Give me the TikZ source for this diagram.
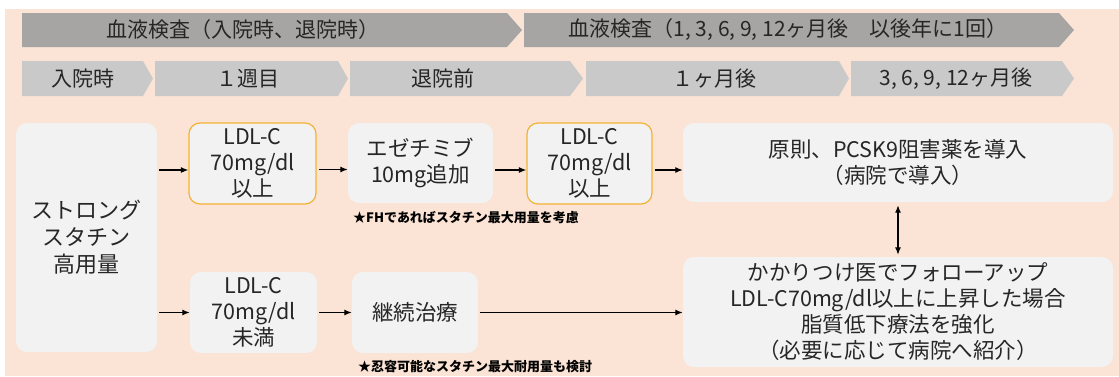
\documentclass[tikz,border=0pt]{standalone}
\usepackage{fontspec}
\setmainfont{Noto Sans CJK JP}
\usetikzlibrary{arrows.meta}
\definecolor{peach}{HTML}{FBE4D5}
\definecolor{boxgray}{HTML}{F2F2F2}
\definecolor{darkchev}{HTML}{A7A5A4}
\definecolor{lightchev}{HTML}{C9C9C9}
\definecolor{goldline}{HTML}{F2B233}
\definecolor{txt}{HTML}{262626}
\tikzset{
  chevtxt/.style={inner sep=0pt, text=txt, font=\fontsize{21}{24}\selectfont},
  flowbox/.style={fill=boxgray, rounded corners=11pt, align=center, text=txt,
    inner sep=0pt, font=\fontsize{21.5}{26}\selectfont},
  goldbox/.style={flowbox, draw=goldline, line width=1.2pt},
  arr/.style={-{Latex[length=7.5pt,width=6pt]}, line width=1.3pt, black, shorten <=2pt},
  darr/.style={{Latex[length=7.5pt,width=6pt]}-{Latex[length=7.5pt,width=6pt]}, line width=1.3pt, black},
  notetxt/.style={anchor=west, inner sep=0pt, text=black, font=\bfseries\fontsize{13}{15}\selectfont}
}
\begin{document}
\begin{tikzpicture}[x=1pt,y=-1pt]
\useasboundingbox (0,0) rectangle (1119,376);
\fill[white] (0,0) rectangle (1119,376);
\fill[peach] (5,9) rectangle (1119,376);
% top dark chevrons
\fill[darkchev] (22,13) -- (507,13) -- (522,30) -- (507,47) -- (22,47) -- cycle;
\fill[darkchev] (524,13) -- (1059,13) -- (1074,30) -- (1059,47) -- (524,47) -- cycle;
\node[chevtxt] (t1) at (243,30) {血液検査（入院時、退院時）};
\node[chevtxt] (t2) at (788,30) {血液検査（1, 3, 6, 9, 12ヶ月後　以後年に1回）};
% second row light chevrons
\fill[lightchev] (22,61) -- (143,61) -- (153,78.5) -- (143,96) -- (22,96) -- cycle;
\fill[lightchev] (155,61) -- (338,61) -- (348,78.5) -- (338,96) -- (155,96) -- cycle;
\fill[lightchev] (350,61) -- (570,61) -- (583,78.5) -- (570,96) -- (350,96) -- cycle;
\fill[lightchev] (586,61) -- (839,61) -- (849,78.5) -- (839,96) -- (586,96) -- cycle;
\fill[lightchev] (851,61) -- (1062,61) -- (1074,78.5) -- (1062,96) -- (851,96) -- cycle;
\node[chevtxt] (s1) at (83,78.5) {入院時};
\node[chevtxt] (s2) at (248,78.5) {１週目};
\node[chevtxt] (s3) at (443,78.5) {退院前};
\node[chevtxt] (s4) at (714,78.5) {１ヶ月後};
\node[chevtxt] (s5) at (956,78.5) {3, 6, 9, 12ヶ月後};
% boxes
\node[flowbox, minimum width=141pt, minimum height=229pt, font=\fontsize{22}{27}\selectfont] (big) at (86.5,237.5) {ストロング\\スタチン\\高用量};
\node[goldbox, minimum width=127pt, minimum height=81pt] (L1) at (252.5,163.5) {LDL-C\\70mg/dl\\以上};
\node[flowbox, minimum width=127pt, minimum height=81pt] (L2) at (253.5,312.5) {LDL-C\\70mg/dl\\未満};
\node[flowbox, minimum width=145pt, minimum height=80pt] (eze) at (420.5,163) {エゼチミブ\\10mg追加};
\node[flowbox, minimum width=126pt, minimum height=81pt] (kei) at (415,312.5) {継続治療};
\node[goldbox, minimum width=125pt, minimum height=81pt] (L3) at (589.5,163.5) {LDL-C\\70mg/dl\\以上};
\node[flowbox, minimum width=430pt, minimum height=79pt] (gen) at (898,162.5) {原則、PCSK9阻害薬を導入\\（病院で導入）};
\node[flowbox, minimum width=430pt, minimum height=110pt] (kak) at (898,312) {かかりつけ医でフォローアップ\\LDL-C70mg/dl以上に上昇した場合\\脂質低下療法を強化\\（必要に応じて病院へ紹介）};
% notes
\node[notetxt] (n1) at (353,218) {★FHであればスタチン最大用量を考慮};
\node[notetxt] (n2) at (358,367) {★忍容可能なスタチン最大耐用量も検討};
% arrows
\coordinate (a1) at ([yshift=-6.5pt]L1.west);
\coordinate (a2) at ([yshift=-6.5pt]eze.west);
\coordinate (a3) at ([yshift=-6.5pt]L3.west);
\coordinate (a4) at ([yshift=-7.5pt]gen.west);
\draw[arr] (a1 -| big.east) -- (a1);
\draw[arr] (a2 -| L1.east) -- (a2);
\draw[arr] (a3 -| eze.east) -- (a3);
\draw[arr] (a4 -| L3.east) -- (a4);
\draw[arr] (L2.west -| big.east) -- (L2.west);
\draw[arr] (kei.west -| L2.east) -- (kei.west);
\draw[arr] (kei.east) -- (kei.east -| kak.west);
\draw[darr] ([yshift=-3pt]gen.south) -- ([yshift=2pt]kak.north);
\end{tikzpicture}
\end{document}
